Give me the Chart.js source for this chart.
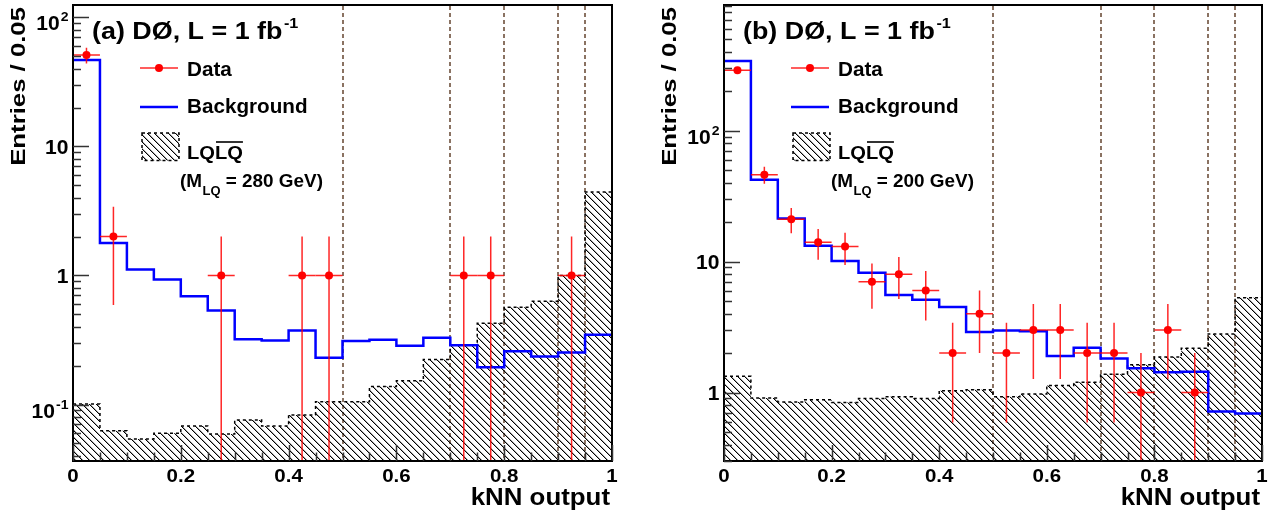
<!DOCTYPE html>
<html>
<head>
<meta charset="utf-8">
<script src="https://cdn.jsdelivr.net/npm/chart.js@4.4.1/dist/chart.umd.min.js"></script>
<style>
  html, body { margin: 0; padding: 0; background: #fff; overflow: hidden; }
  #wrap { position: relative; width: 1269px; height: 511px; }
  canvas { position: absolute; top: 0; }
  #chartA { left: 0; }
  #chartB { left: 634px; }
</style>
</head>
<body>
<div id="wrap">
  <canvas id="chartA" width="634" height="511"></canvas>
  <canvas id="chartB" width="635" height="511"></canvas>
</div>
<script>
// bin edges and centres of the kNN output histogram (width 0.05)
const binEdges = [0, 0.05, 0.1, 0.15, 0.2, 0.25, 0.3, 0.35, 0.4, 0.45, 0.5,
                  0.55, 0.6, 0.65, 0.7, 0.75, 0.8, 0.85, 0.9, 0.95, 1];
const binCentres = [0.025, 0.075, 0.125, 0.175, 0.225, 0.275, 0.325, 0.375, 0.425, 0.475,
                    0.525, 0.575, 0.625, 0.675, 0.725, 0.775, 0.825, 0.875, 0.925, 0.975];

// panel (a), M_LQ = 280 GeV
const bkgA = [46.7, 1.78, 1.11, 0.93, 0.69, 0.535, 0.32, 0.313, 0.375, 0.23,
              0.31, 0.318, 0.285, 0.329, 0.288, 0.194, 0.259, 0.235, 0.253, 0.347];
const sigA = [0.101, 0.0625, 0.054, 0.060, 0.068, 0.059, 0.076, 0.068, 0.083, 0.105,
              0.105, 0.138, 0.153, 0.223, 0.288, 0.427, 0.568, 0.632, 1.0, 4.42];
const dataA = [51, 2, null, null, null, 1, null, null, 1, 1,
               null, null, null, null, 1, 1, null, null, 1, null];
const errA = [7.1, 1.41, null, null, null, 1, null, null, 1, 1,
              null, null, null, null, 1, 1, null, null, 1, null];

// panel (b), M_LQ = 200 GeV
const bkgB = [339, 42, 21.3, 13.2, 10.1, 8.2, 5.55, 5.1, 4.49, 2.9,
              2.98, 2.93, 1.9, 2.2, 1.82, 1.53, 1.43, 1.44, 0.716, 0.69];
const sigB = [1.33, 0.906, 0.846, 0.88, 0.84, 0.90, 0.93, 0.90, 1.03, 1.05,
              0.93, 0.975, 1.13, 1.2, 1.38, 1.63, 1.87, 2.18, 2.8, 5.3];
const dataB = [288, 46, 21, 14, 13, 7, 8, 6, 2, 4,
               2, 3, 3, 2, 2, 1, 3, 1, null, null];
const errB = [17, 6.8, 4.6, 3.7, 3.6, 2.65, 2.83, 2.45, 1.41, 2,
              1.41, 1.73, 1.73, 1.41, 1.41, 1, 1.73, 1, null, null];

// cut positions (dashed verticals)
const cutValues = [0.5, 0.7, 0.8, 0.9, 0.95];

// tick labels
const xTickValues = [0, 0.2, 0.4, 0.6, 0.8, 1];
const xTickLabels = ['0', '0.2', '0.4', '0.6', '0.8', '1'];
const yTickValuesA = [0.1, 1, 10, 100];
const yTickLabelsA = [['10', '-1'], ['1', ''], ['10', ''], ['10', '2']];
const yTickValuesB = [1, 10, 100];
const yTickLabelsB = [['1', ''], ['10', ''], ['10', '2']];

const FONT = '"Liberation Sans", Arial, Helvetica, sans-serif';
const CUT_COLOR = '#8a7262';

// crisp pixel hatch pattern "\\\"
function makeHatch() {
  const s = 7;
  const c = document.createElement('canvas');
  c.width = s; c.height = s;
  const g = c.getContext('2d');
  for (let i = 0; i < s; i++) {
    g.fillStyle = '#000';
    g.fillRect(i, i, 1, 1);
    g.fillStyle = 'rgba(0,0,0,0.35)';
    g.fillRect((i + 1) % s, i, 1, 1);
  }
  return g.createPattern(c, 'repeat');
}
const hatch = makeHatch();

function stepPoints(values) {
  const pts = values.map((v, i) => ({ x: binEdges[i], y: v }));
  pts.push({ x: binEdges[binEdges.length - 1], y: values[values.length - 1] });
  return pts;
}

function dataPoints(values) {
  return values.map((v, i) => ({ x: binCentres[i], y: v })).filter(p => p.y !== null);
}

// text helper: bold, horizontally stretched like the ROOT output
function drawText(ctx, s, x, y, size, sx, align) {
  ctx.save();
  ctx.font = `bold ${size}px ${FONT}`;
  ctx.fillStyle = '#000';
  ctx.textBaseline = 'alphabetic';
  ctx.translate(x, y);
  ctx.scale(sx, 1);
  ctx.textAlign = align || 'left';
  ctx.fillText(s, 0, 0);
  const w = ctx.measureText(s).width * sx;
  ctx.restore();
  return w;
}
function textWidth(ctx, s, size, sx) {
  ctx.save();
  ctx.font = `bold ${size}px ${FONT}`;
  const w = ctx.measureText(s).width * sx;
  ctx.restore();
  return w;
}

const hepPlugin = {
  id: 'hepDecor',
  beforeDatasetsDraw(chart) {
    const { ctx, chartArea, scales: { x } } = chart;
    ctx.save();
    ctx.strokeStyle = CUT_COLOR;
    ctx.lineWidth = 2;
    ctx.setLineDash([4, 3]);
    cutValues.forEach(v => {
      const px = Math.round(x.getPixelForValue(v));
      ctx.beginPath();
      ctx.moveTo(px, chartArea.top + 1);
      ctx.lineTo(px, chartArea.bottom);
      ctx.stroke();
    });
    ctx.restore();
  },
  beforeDatasetDraw(chart, args) {
    const ds = chart.data.datasets[args.index];
    if (ds.label !== 'Data') return;
    const { ctx, chartArea, scales: { x, y } } = chart;
    const vals = chart.options.plugins.hepDecor.values;
    const errs = chart.options.plugins.hepDecor.errors;
    ctx.save();
    ctx.beginPath();
    ctx.rect(chartArea.left, chartArea.top, chartArea.right - chartArea.left, chartArea.bottom - chartArea.top);
    ctx.clip();
    ctx.strokeStyle = 'rgba(255,0,0,0.85)';
    ctx.lineWidth = 1.5;
    vals.forEach((v, i) => {
      if (v === null) return;
      const cx = x.getPixelForValue(binCentres[i]);
      const cy = y.getPixelForValue(v);
      const hi = y.getPixelForValue(v + errs[i]);
      const lo = v - errs[i] > y.min ? y.getPixelForValue(v - errs[i]) : chartArea.bottom;
      ctx.beginPath();
      ctx.moveTo(cx, hi); ctx.lineTo(cx, lo);
      ctx.moveTo(x.getPixelForValue(binEdges[i]), cy);
      ctx.lineTo(x.getPixelForValue(binEdges[i + 1]), cy);
      ctx.stroke();
    });
    ctx.restore();
  },
  afterDraw(chart) {
    const { ctx, chartArea: a, scales: { x, y } } = chart;
    const o = chart.options.plugins.hepDecor;

    // frame
    ctx.save();
    ctx.strokeStyle = '#000';
    ctx.lineWidth = 2;
    ctx.strokeRect(a.left, a.top, a.right - a.left, a.bottom - a.top);

    // y ticks (log, inward)
    ctx.strokeStyle = '#333';
    ctx.lineWidth = 1.5;
    const d0 = Math.floor(Math.log10(y.min)), d1 = Math.ceil(Math.log10(y.max));
    for (let d = d0; d <= d1; d++) {
      for (let k = 1; k <= 9; k++) {
        const v = k * Math.pow(10, d);
        if (v < y.min || v > y.max) continue;
        const py = Math.round(y.getPixelForValue(v)) + 0.5;
        ctx.beginPath();
        ctx.moveTo(a.left, py);
        ctx.lineTo(a.left + (k === 1 ? 16 : 8), py);
        ctx.stroke();
      }
    }
    // x ticks
    for (let i = 0; i < binEdges.length; i++) {
      const px = Math.round(x.getPixelForValue(binEdges[i])) + 0.5;
      ctx.beginPath();
      ctx.moveTo(px, a.bottom);
      ctx.lineTo(px, a.bottom - (i % 4 === 0 ? 16 : 8.5));
      ctx.stroke();
    }
    ctx.restore();

    // x tick labels
    xTickValues.forEach((v, i) => {
      drawText(ctx, xTickLabels[i], x.getPixelForValue(v), 481.5, 19, 1.08, 'center');
    });
    // y tick labels
    o.yTickValues.forEach((v, i) => {
      const [base, sup] = o.yTickLabels[i];
      const py = y.getPixelForValue(v);
      const right = a.left - 4.5;
      if (sup) {
        const wb = textWidth(ctx, base, 19.5, 1.08);
        const ws = textWidth(ctx, sup, 13, 1.08);
        drawText(ctx, base, right - ws - wb - 1, py + 13, 19.5, 1.08, 'left');
        drawText(ctx, sup, right - ws, py + 4, 13, 1.08, 'left');
      } else {
        drawText(ctx, base, right, py + 7.5, 19.5, 1.08, 'right');
      }
    });

    // axis titles
    drawText(ctx, 'kNN output', a.right - 2, 505, 23.5, 1.1, 'right');
    ctx.save();
    ctx.font = `bold 19.5px ${FONT}`;
    ctx.fillStyle = '#000';
    ctx.translate(a.left - 48, 7);
    ctx.rotate(-Math.PI / 2);
    ctx.scale(1.32, 1);
    ctx.textAlign = 'right';
    ctx.fillText('Entries / 0.05', 0, 0);
    ctx.restore();

    // panel title
    const tw = drawText(ctx, o.title, a.left + 19, 39, 24, 1.12, 'left');
    drawText(ctx, '-1', a.left + 19 + tw + 1.5, 27.5, 15, 1.08, 'left');

    // legend
    const L = a.left;
    ctx.save();
    ctx.strokeStyle = 'rgba(255,0,0,0.85)';
    ctx.lineWidth = 1.5;
    ctx.beginPath(); ctx.moveTo(L + 67, 68); ctx.lineTo(L + 105, 68); ctx.stroke();
    ctx.fillStyle = '#ff0000';
    ctx.beginPath(); ctx.arc(L + 86, 68, 4, 0, Math.PI * 2); ctx.fill();
    ctx.strokeStyle = '#0000ff';
    ctx.lineWidth = 2.5;
    ctx.beginPath(); ctx.moveTo(L + 67, 107); ctx.lineTo(L + 105, 107); ctx.stroke();
    ctx.fillStyle = hatch;
    ctx.fillRect(L + 69, 133, 37, 27.5);
    ctx.strokeStyle = '#000';
    ctx.lineWidth = 1.5;
    ctx.setLineDash([3, 3]);
    ctx.strokeRect(L + 69, 133, 37, 27.5);
    ctx.restore();

    drawText(ctx, 'Data', L + 114, 76, 19.5, 1.06, 'left');
    drawText(ctx, 'Background', L + 114, 113, 19.5, 1.06, 'left');
    const w1 = drawText(ctx, 'LQ', L + 114, 159, 19, 1.06, 'left');
    const w2 = drawText(ctx, 'LQ', L + 114 + w1, 159, 19, 1.06, 'left');
    ctx.save();
    ctx.strokeStyle = '#000';
    ctx.lineWidth = 1.6;
    ctx.beginPath();
    ctx.moveTo(L + 114 + w1 + 1, 142); ctx.lineTo(L + 114 + w1 + w2, 142);
    ctx.stroke();
    ctx.restore();
    let mx = L + 107;
    mx += drawText(ctx, '(M', mx, 187, 17.5, 1.08, 'left');
    mx += drawText(ctx, 'LQ', mx + 0.5, 195, 12, 1.08, 'left') + 0.5;
    drawText(ctx, o.massText, mx, 187, 17.5, 1.08, 'left');
  }
};

function makePanel(canvasId, opts) {
  const canvas = document.getElementById(canvasId);
  return new Chart(canvas.getContext('2d'), {
    type: 'line',
    data: {
      datasets: [
        {
          label: 'Data',
          data: dataPoints(opts.data),
          showLine: false,
          pointRadius: 4,
          pointBorderWidth: 0,
          pointBackgroundColor: '#ff0000',
          pointBorderColor: '#ff0000',
          order: 0
        },
        {
          label: 'Background',
          data: stepPoints(opts.bkg),
          stepped: true,
          borderColor: '#0000ff',
          borderWidth: 2.5,
          pointRadius: 0,
          fill: false,
          order: 1
        },
        {
          label: 'LQLQ',
          data: stepPoints(opts.sig),
          stepped: true,
          borderColor: '#000',
          borderWidth: 1.5,
          borderDash: [3, 3],
          backgroundColor: hatch,
          fill: 'start',
          pointRadius: 0,
          order: 2
        }
      ]
    },
    options: {
      responsive: false,
      animation: false,
      events: [],
      layout: { padding: { top: 5, right: canvas.width - opts.right, left: 0, bottom: 0 } },
      scales: {
        x: {
          type: 'linear', min: 0, max: 1,
          ticks: { display: false }, grid: { display: false }, border: { display: false },
          afterFit(s) { s.height = 50; }
        },
        y: {
          type: 'logarithmic', min: opts.yMin, max: opts.yMax,
          ticks: { display: false }, grid: { display: false }, border: { display: false },
          afterFit(s) { s.width = opts.left; }
        }
      },
      plugins: {
        legend: { display: false },
        tooltip: { enabled: false },
        hepDecor: {
          values: opts.data,
          errors: opts.err,
          yTickValues: opts.yTickValues,
          yTickLabels: opts.yTickLabels,
          title: opts.title,
          massText: opts.massText
        }
      }
    },
    plugins: [hepPlugin]
  });
}

makePanel('chartA', {
  bkg: bkgA, sig: sigA, data: dataA, err: errA,
  yMin: 0.0365, yMax: 124.5, left: 73, right: 612,
  yTickValues: yTickValuesA, yTickLabels: yTickLabelsA,
  title: '(a) DØ, L = 1 fb', massText: ' = 280 GeV)'
});
makePanel('chartB', {
  bkg: bkgB, sig: sigB, data: dataB, err: errB,
  yMin: 0.347, yMax: 908, left: 90, right: 628,
  yTickValues: yTickValuesB, yTickLabels: yTickLabelsB,
  title: '(b) DØ, L = 1 fb', massText: ' = 200 GeV)'
});
</script>
</body>
</html>
